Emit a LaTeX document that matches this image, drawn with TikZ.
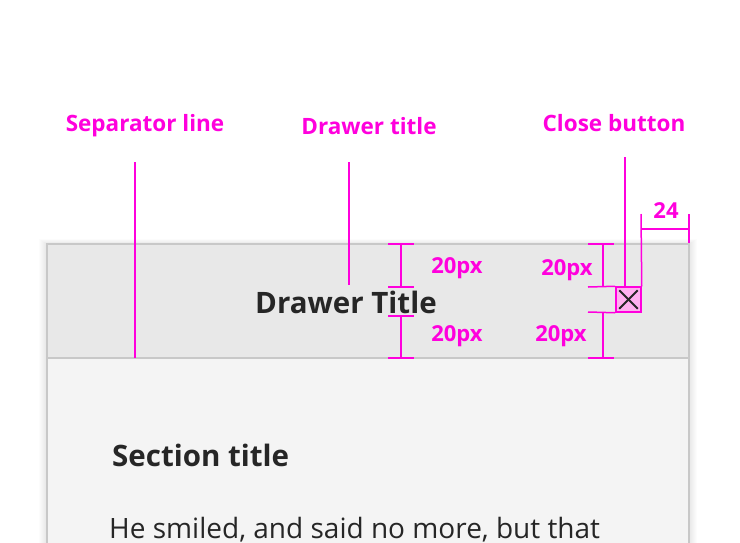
\documentclass[tikz,border=0pt]{standalone}
\usepackage{fontspec}
\setmainfont{Open Sans}
\definecolor{mag}{RGB}{255,0,221}
\definecolor{hdr}{RGB}{232,232,232}
\definecolor{bodyc}{RGB}{244,244,244}
\definecolor{brd}{RGB}{200,200,200}
\definecolor{txt}{RGB}{38,38,38}
\definecolor{pinkf}{RGB}{255,176,240}
\tikzset{
  lbl/.style={text=mag, font=\fontsize{22.5}{27}\selectfont\bfseries, inner sep=0pt},
  dimlbl/.style={text=mag, font=\fontsize{22}{26}\selectfont\bfseries, inner sep=0pt},
  mline/.style={draw=mag, line width=1.5pt},
}
\begin{document}
\begin{tikzpicture}[x=1pt,y=-1pt]
\useasboundingbox (0,0) rectangle (740,542);
\clip (0,0) rectangle (740,542);
% shadow
\foreach \i in {1,...,8}{
  \fill[black, opacity=0.012] (47-\i,244-\i*0.6) rectangle (689+\i,560);
}
% panel
\fill[bodyc] (47,358) rectangle (689,560);
\fill[hdr] (47,244) rectangle (689,358);
\draw[brd, line width=1.5pt] (47,560) -- (47,244) -- (689,244) -- (689,560);
\draw[brd, line width=1.5pt] (47,358) -- (689,358);
% texts
\node[text=txt, font=\fontsize{29.5}{35}\selectfont\bfseries, inner sep=0pt] (dt) at (346,302) {Drawer Title};
\node[text=txt, font=\fontsize{29.5}{35}\selectfont\bfseries, inner sep=0pt, anchor=west] (st) at (112,455) {Section title};
\node[text=txt, font=\fontsize{28}{34}\selectfont, inner sep=0pt, anchor=west] (bt) at (109,530) {He smiled, and said no more, but that};
% close button
\node[draw=mag, fill=pinkf, line width=1.5pt, minimum size=25pt, inner sep=0pt] (cb) at (628.5,299.5) {};
\draw[txt, line width=1.8pt] ([shift={(4,-4)}]cb.south west) -- ([shift={(-4,4)}]cb.north east);
\draw[txt, line width=1.8pt] ([shift={(4,4)}]cb.north west) -- ([shift={(-4,-4)}]cb.south east);
% labels
\node[lbl] (sl) at (145,126) {Separator line};
\node[lbl] (dl) at (369,126) {Drawer title};
\node[lbl] (cl) at (614,123) {Close button};
\coordinate (sl1) at (135,162); \coordinate (sl2) at (135,358);
\coordinate (dl1) at (349,162); \coordinate (dl2) at (349,285);
\coordinate (cl1) at (625,157);
\draw[mline] (sl1) -- (sl2);
\draw[mline] (dl1) -- (dl2);
\draw[mline] (cl1) -- (cl1 |- cb.north);
% 24 dimension
\coordinate (w1) at (641,214); \coordinate (w2) at (689,214); \coordinate (w3) at (689,243);
\draw[mline] (w1) -- (cb.north east);
\draw[mline] (w2) -- (w3);
\draw[mline] (641,229) -- (689,229);
\node[dimlbl] (w24) at (666,211) {24};
% title dims
\draw[mline] (401,244) -- (401,287);
\draw[mline] (388,244) -- (414,244);
\draw[mline] (388,287) -- (414,287);
\draw[mline] (401,316) -- (401,358);
\draw[mline] (388,316) -- (414,316);
\draw[mline] (388,358) -- (414,358);
\node[dimlbl] (d1) at (457,268) {20px};
\node[dimlbl] (d2) at (457,336) {20px};
% close dims
\draw[mline] (603,244) -- (603,287);
\draw[mline] (588,244) -- (614,244);
\draw[mline] (588,287) -- (cb.north west);
\draw[mline] (603,312) -- (603,358);
\draw[mline] (588,312) -- (cb.south west);
\draw[mline] (588,358) -- (614,358);
\node[dimlbl] (d3) at (567,270) {20px};
\node[dimlbl] (d4) at (561,336) {20px};
\end{tikzpicture}
\end{document}
